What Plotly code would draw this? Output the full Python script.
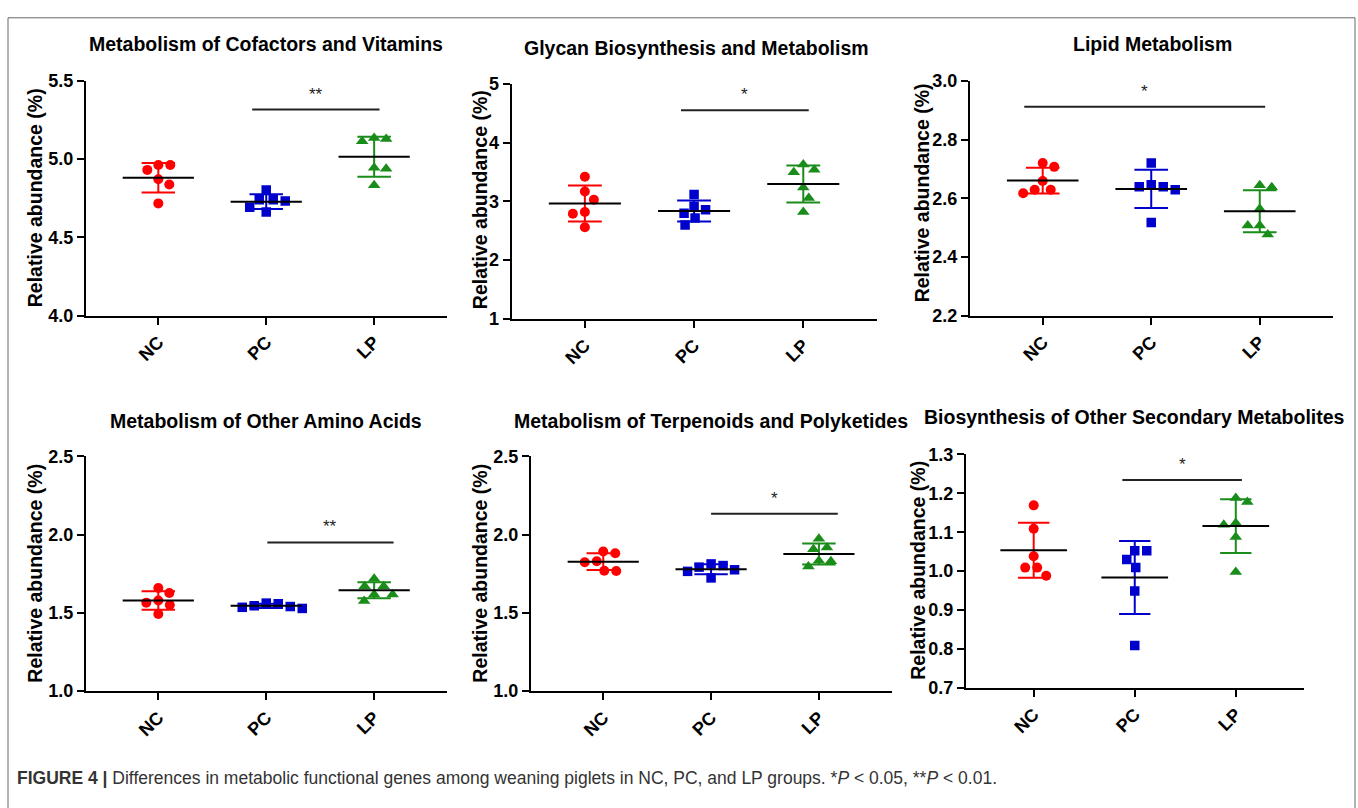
import numpy as np
import plotly.graph_objects as go

W, H = 1358, 808

groups = ["NC", "PC", "LP"]
group_colors = ["#FF0000", "#0000CC", "#1A8C1A"]
group_symbols = ["circle", "square", "triangle-up"]

panel_titles = [
    "Metabolism of Cofactors and Vitamins",
    "Glycan Biosynthesis and Metabolism",
    "Lipid Metabolism",
    "Metabolism of Other Amino Acids",
    "Metabolism of Terpenoids and Polyketides",
    "Biosynthesis of Other Secondary Metabolites",
]

# relative abundance (%) per pig, 6 per group
cof_nc = [4.962, 4.962, 4.931, 4.871, 4.838, 4.717]
cof_pc = [4.802, 4.740, 4.740, 4.733, 4.692, 4.662]
cof_lp = [5.135, 5.129, 5.115, 4.944, 4.938, 4.833]

gly_nc = [3.42, 3.17, 3.03, 2.82, 2.79, 2.56]
gly_pc = [3.12, 2.92, 2.86, 2.80, 2.72, 2.60]
gly_lp = [3.63, 3.54, 3.50, 3.24, 3.06, 2.82]

lip_nc = [2.720, 2.707, 2.659, 2.629, 2.629, 2.617]
lip_pc = [2.720, 2.646, 2.639, 2.639, 2.629, 2.517]
lip_lp = [2.644, 2.637, 2.564, 2.507, 2.507, 2.476]

ami_nc = [1.658, 1.627, 1.579, 1.565, 1.550, 1.492]
ami_pc = [1.562, 1.558, 1.545, 1.540, 1.535, 1.528]
ami_lp = [1.717, 1.669, 1.669, 1.617, 1.617, 1.575]

ter_nc = [1.892, 1.881, 1.829, 1.823, 1.769, 1.767]
ter_pc = [1.8125, 1.802, 1.792, 1.775, 1.765, 1.723]
ter_lp = [1.973, 1.917, 1.906, 1.833, 1.829, 1.796]

sec_nc = [1.169, 1.109, 1.038, 1.009, 1.009, 0.988]
sec_pc = [1.0525, 1.0525, 1.030, 1.009, 0.949, 0.809]
sec_lp = [1.188, 1.1775, 1.124, 1.119, 1.088, 0.998]

panel_data = [
    [cof_nc, cof_pc, cof_lp],
    [gly_nc, gly_pc, gly_lp],
    [lip_nc, lip_pc, lip_lp],
    [ami_nc, ami_pc, ami_lp],
    [ter_nc, ter_pc, ter_lp],
    [sec_nc, sec_pc, sec_lp],
]

y_ranges = [(4.0, 5.5), (1.0, 5.0), (2.2, 3.0), (1.0, 2.5), (1.0, 2.5), (0.7, 1.3)]
y_ticks = [
    [4.0, 4.5, 5.0, 5.5],
    [1, 2, 3, 4, 5],
    [2.2, 2.4, 2.6, 2.8, 3.0],
    [1.0, 1.5, 2.0, 2.5],
    [1.0, 1.5, 2.0, 2.5],
    [0.7, 0.8, 0.9, 1.0, 1.1, 1.2, 1.3],
]
y_tick_labels = [
    ["4.0", "4.5", "5.0", "5.5"],
    ["1", "2", "3", "4", "5"],
    ["2.2", "2.4", "2.6", "2.8", "3.0"],
    ["1.0", "1.5", "2.0", "2.5"],
    ["1.0", "1.5", "2.0", "2.5"],
    ["0.7", "0.8", "0.9", "1.0", "1.1", "1.2", "1.3"],
]

# significance brackets: (from, to, level, label)
sig_brackets = [
    (0.87, 2.05, 5.317, "**"),
    (0.88, 2.05, 4.556, "*"),
    (-0.17, 2.05, 2.912, "*"),
    (1.01, 2.18, 1.950, "**"),
    (1.00, 2.175, 2.133, "*"),
    (0.877, 2.06, 1.234, "*"),
]

caption = ("<b>FIGURE 4 |</b> Differences in metabolic functional genes among weaning piglets "
           "in NC, PC, and LP groups. *<i>P</i> &lt; 0.05, **<i>P</i> &lt; 0.01.")

# ---------------- layout geometry (pixels) ----------------
# (left, right, top, bottom) of each plot area
boxes = [
    (86, 447, 72.7, 313.3),
    (511.7, 877, 76, 316.7),
    (970, 1333, 72.7, 313.3),
    (86, 447, 457.7, 698.3),
    (531, 891.7, 457.7, 698.3),
    (966, 1304, 455.7, 695),
]
title_pos = [(266, 35), (697, 39), (1152, 35), (266, 421), (711, 421), (1134, 417)]
ytitle_pos = [(35, 193), (480, 195), (922, 188), (35, 578), (480, 578), (918, 575)]
x_range = (-0.67, 2.675)

FONT = "Liberation Sans, Arial, Helvetica, sans-serif"


def px_x(x):
    return x / W


def px_y(y):
    return 1 - y / H


def beeswarm(vals, ppu_x, ppu_y, d=12.0):
    vals = np.asarray(vals, dtype=float)
    order = np.argsort(-vals, kind="stable")
    placed = []
    offs = np.zeros(len(vals))
    nl = nr = 0
    for idx in order:
        yp = vals[idx] * ppu_y
        best = None
        for k in np.arange(0, 80, 0.5):
            if k == 0:
                cands = [0.0]
            else:
                cands = [k, -k] if nr <= nl else [-k, k]
            for c in cands:
                if all((c - px) ** 2 + (yp - py) ** 2 >= d * d for px, py in placed):
                    best = c
                    break
            if best is not None:
                break
        placed.append((best, yp))
        if best > 0:
            nr += 1
        elif best < 0:
            nl += 1
        offs[idx] = best / ppu_x
    return offs


fig = go.Figure()
annotations = []
shapes = []
marker_sizes = [10, 9.5, 11]

for p in range(6):
    ax = "" if p == 0 else str(p + 1)
    xa, ya = "x" + ax, "y" + ax
    l, r, t, b = boxes[p]
    y0, y1 = y_ranges[p]
    ppu_x = (r - l) / (x_range[1] - x_range[0])
    ppu_y = (b - t) / (y1 - y0)

    for g in range(3):
        vals = np.asarray(panel_data[p][g], dtype=float)
        offs = beeswarm(vals, ppu_x, ppu_y)
        fig.add_trace(go.Scatter(
            x=g + offs, y=vals, mode="markers", xaxis=xa, yaxis=ya,
            marker=dict(symbol=group_symbols[g], color=group_colors[g], size=marker_sizes[g],
                        line=dict(width=0)),
            showlegend=False, hoverinfo="skip"))
    for g in range(3):
        vals = np.asarray(panel_data[p][g], dtype=float)
        m, sd = vals.mean(), vals.std(ddof=1)
        fig.add_trace(go.Scatter(
            x=[g], y=[m], mode="markers", xaxis=xa, yaxis=ya,
            marker=dict(size=1, color="rgba(0,0,0,0)"),
            error_y=dict(type="data", array=[sd], visible=True, color=group_colors[g],
                         thickness=2, width=0.155 * ppu_x),
            showlegend=False, hoverinfo="skip"))
    mx, my = [], []
    for g in range(3):
        m = float(np.mean(panel_data[p][g]))
        mx += [g - 0.33, g + 0.33, None]
        my += [m, m, None]
    fig.add_trace(go.Scatter(x=mx, y=my, mode="lines", xaxis=xa, yaxis=ya,
                             line=dict(color="black", width=2),
                             showlegend=False, hoverinfo="skip"))

    s0, s1, sy, lab = sig_brackets[p]
    fig.add_trace(go.Scatter(x=[s0, s1], y=[sy, sy], mode="lines", xaxis=xa, yaxis=ya,
                             line=dict(color="#222222", width=2),
                             showlegend=False, hoverinfo="skip"))
    annotations.append(dict(x=(s0 + s1) / 2, y=sy, xref=xa, yref=ya, text=lab,
                            showarrow=False, yanchor="bottom", yshift=4,
                            font=dict(family=FONT, size=17, color="#222222")))

    axis_common = dict(showline=True, linecolor="black", linewidth=2, ticks="outside",
                       ticklen=7, tickwidth=2, tickcolor="black", showgrid=False,
                       zeroline=False, fixedrange=True)
    fig.update_layout(**{
        "xaxis" + ax: dict(domain=[px_x(l), px_x(r)], range=list(x_range), anchor=ya,
                           tickvals=[0, 1, 2], ticktext=groups, tickangle=-45,
                           tickfont=dict(family=FONT, size=18, color="black", weight="bold"),
                           **axis_common),
        "yaxis" + ax: dict(domain=[px_y(b), px_y(t)], range=[y0, y1], anchor=xa,
                           tickvals=y_ticks[p], ticktext=y_tick_labels[p],
                           tickfont=dict(family=FONT, size=18, color="black", weight="bold"),
                           **axis_common),
    })

    tx, ty = title_pos[p]
    annotations.append(dict(x=px_x(tx), y=px_y(ty), xref="paper", yref="paper",
                            text="<b>%s</b>" % panel_titles[p], showarrow=False,
                            xanchor="center", yanchor="middle",
                            font=dict(family=FONT, size=19.5, color="black")))
    yx, yy = ytitle_pos[p]
    annotations.append(dict(x=px_x(yx), y=px_y(yy), xref="paper", yref="paper",
                            text="<b>Relative abundance (%)</b>", showarrow=False,
                            textangle=-90, xanchor="center", yanchor="middle",
                            font=dict(family=FONT, size=19.5, color="black")))

annotations.append(dict(x=px_x(15), y=px_y(788), xref="paper", yref="paper", text=caption,
                        showarrow=False, xanchor="left", yanchor="middle",
                        font=dict(family=FONT, size=17.5, color="#333333")))

shapes.append(dict(type="rect", xref="paper", yref="paper", x0=px_x(8), x1=px_x(1355),
                   y0=px_y(830), y1=px_y(8), line=dict(color="#666666", width=1),
                   fillcolor="rgba(0,0,0,0)", layer="below"))

fig.update_layout(width=W, height=H, margin=dict(l=0, r=0, t=0, b=0),
                  paper_bgcolor="white", plot_bgcolor="white",
                  annotations=annotations, shapes=shapes, showlegend=False)

fig.write_html("out.html", config={"displayModeBar": False},
               post_script="document.body.style.margin='0px';document.body.style.overflow='hidden';")
